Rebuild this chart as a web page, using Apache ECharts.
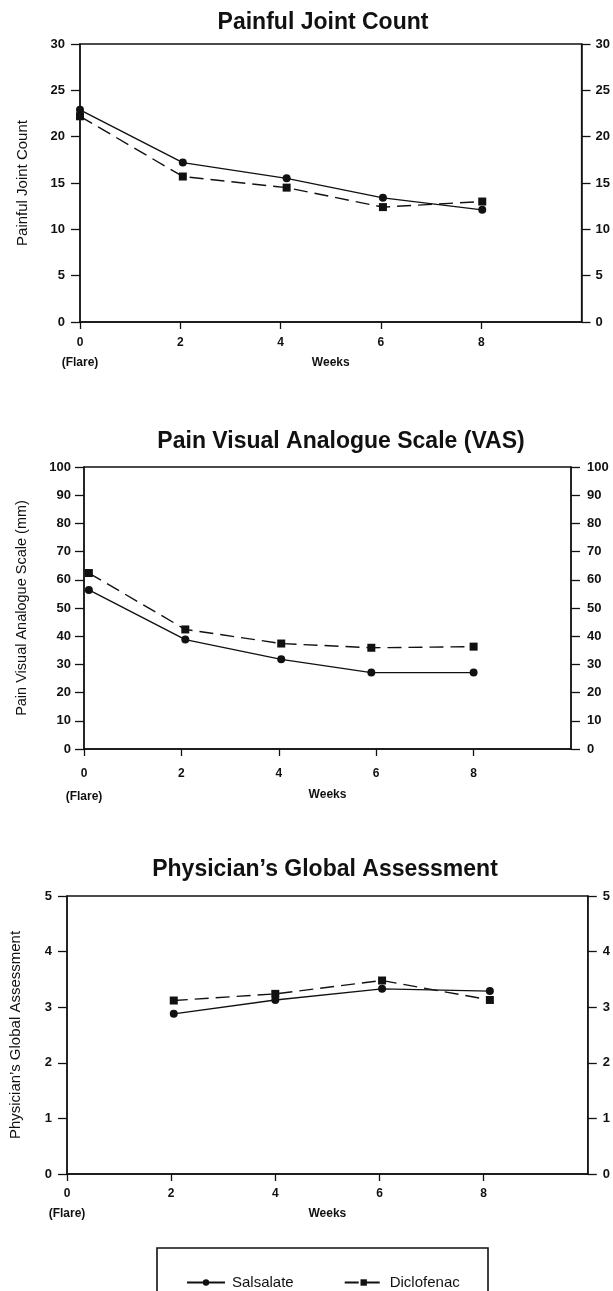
<!DOCTYPE html>
<html>
<head>
<meta charset="utf-8">
<script src="https://cdn.jsdelivr.net/npm/echarts@6/dist/echarts.min.js"></script>
<style>
  html, body { margin: 0; padding: 0; background: #fff; }
  #chart { width: 613px; height: 1291px; }
</style>
</head>
<body>
<div id="chart"></div>
<script>
// ---- Data ----
const xTickValues = [0, 2, 4, 6, 8];
const seriesNames = ['Salsalate', 'Diclofenac'];

const pjcWeeks = [0, 2.05, 4.12, 6.04, 8.02];
const pjcSalsalate = [22.9, 17.2, 15.5, 13.4, 12.1];
const pjcDiclofenac = [22.2, 15.7, 14.5, 12.4, 13.0];

const vasWeeks = [0.1, 2.08, 4.05, 5.9, 8.0];
const vasSalsalate = [56.4, 38.8, 31.8, 27.1, 27.1];
const vasDiclofenac = [62.4, 42.4, 37.4, 35.9, 36.3];

const pgaWeeks = [2.05, 4.0, 6.05, 8.12];
const pgaSalsalate = [2.88, 3.13, 3.33, 3.29];
const pgaDiclofenac = [3.12, 3.24, 3.48, 3.13];

const titles = ['Painful Joint Count', 'Pain Visual Analogue Scale (VAS)', "Physician\u2019s Global Assessment"];
const yNames = ['Painful Joint Count', 'Pain Visual Analogue Scale (mm)', "Physician\u2019s Global Assessment"];
const yMaxes = [30, 100, 5];
const yIntervals = [5, 10, 1];
const xName = 'Weeks';
const flareLabel = '(Flare)';

// ---- Layout (positions & styles only) ----
const FONT = "'Liberation Sans', Arial, Helvetica, sans-serif";
const INK = '#111';
const layouts = [
  { grid: { left: 80, right: 31, top: 44, height: 278 }, titleX: 323, titleY: 23, nameGap: 50, nameSize: 15, lMargin: 15, rMargin: 14, xMargin: 11, xLine: 20, xNameGap: 35 },
  { grid: { left: 84, right: 42, top: 467, height: 282 }, titleX: 341, titleY: 442, nameGap: 55, nameSize: 14.5, lMargin: 13, rMargin: 16, xMargin: 13, xLine: 23, xNameGap: 40 },
  { grid: { left: 64, right: 25, top: 896, height: 278 }, titleX: 325, titleY: 870, nameGap: 44, nameSize: 15, lMargin: 15, rMargin: 15, xMargin: 10, xLine: 20, xNameGap: 34 }
];

const datasets = [
  [pjcWeeks, pjcSalsalate, pjcDiclofenac],
  [vasWeeks, vasSalsalate, vasDiclofenac],
  [pgaWeeks, pgaSalsalate, pgaDiclofenac]
];

const grids = [], xAxes = [], yAxes = [], series = [], graphics = [];

layouts.forEach((L, i) => {
  grids.push(Object.assign({ show: true, borderColor: INK, borderWidth: 1.3, backgroundColor: 'transparent', containLabel: false }, L.grid));

  xAxes.push({
    type: 'value', gridIndex: i, min: 0, max: 10, interval: 2,
    name: xName, nameLocation: 'middle', nameGap: L.xNameGap, nameMoveOverlap: false,
    nameTextStyle: { fontFamily: FONT, fontSize: 12, fontWeight: 'bold', color: INK },
    axisLine: { show: true, onZero: false, lineStyle: { color: INK, width: 1.5 } },
    axisTick: { show: true, length: 7, customValues: xTickValues, lineStyle: { color: INK, width: 1.3 } },
    axisLabel: {
      customValues: xTickValues, margin: L.xMargin, lineHeight: L.xLine,
      fontFamily: FONT, fontSize: 12, fontWeight: 'bold', color: INK,
      formatter: v => (v === 0 ? '0\n' + flareLabel : String(v))
    },
    splitLine: { show: false }
  });

  const yCommon = {
    type: 'value', gridIndex: i, min: 0, max: yMaxes[i], interval: yIntervals[i],
    axisLine: { show: true, lineStyle: { color: INK, width: 1.5 } },
    axisTick: { show: true, length: 9, lineStyle: { color: INK, width: 1.3 } },
    splitLine: { show: false }
  };
  yAxes.push(Object.assign({}, yCommon, {
    position: 'left',
    name: yNames[i], nameLocation: 'middle', nameGap: L.nameGap, nameRotate: 90, nameMoveOverlap: false,
    nameTextStyle: { fontFamily: FONT, fontSize: L.nameSize, color: INK },
    axisLabel: { margin: L.lMargin, fontFamily: FONT, fontSize: 13, fontWeight: 'bold', color: INK }
  }));
  yAxes.push(Object.assign({}, yCommon, {
    position: 'right',
    axisLabel: { margin: L.rMargin, fontFamily: FONT, fontSize: 13, fontWeight: 'bold', color: INK }
  }));

  const [wk, sal, dic] = datasets[i];
  series.push({
    name: seriesNames[0], type: 'line', xAxisIndex: i, yAxisIndex: 2 * i,
    data: wk.map((w, k) => [w, sal[k]]),
    symbol: 'circle', symbolSize: 8, showAllSymbol: true,
    lineStyle: { color: INK, width: 1.4, type: 'solid' },
    itemStyle: { color: INK }, z: 3
  });
  series.push({
    name: seriesNames[1], type: 'line', xAxisIndex: i, yAxisIndex: 2 * i,
    data: wk.map((w, k) => [w, dic[k]]),
    symbol: 'rect', symbolSize: 8, showAllSymbol: true,
    lineStyle: { color: INK, width: 1.4, type: [14, 7] },
    itemStyle: { color: INK }, z: 3
  });

  graphics.push({
    type: 'text', x: L.titleX, y: L.titleY,
    style: { text: titles[i], fontFamily: FONT, fontSize: 23, fontWeight: 'bold', fill: INK, align: 'center', verticalAlign: 'middle' }
  });
});

// legend frame
graphics.push({
  type: 'rect', shape: { x: 157, y: 1248, width: 331, height: 100 },
  style: { fill: 'none', stroke: INK, lineWidth: 1.6 }
});

const chart = echarts.init(document.getElementById('chart'), null, { renderer: 'canvas' });
chart.setOption({
  animation: false,
  backgroundColor: '#fff',
  grid: grids,
  xAxis: xAxes,
  yAxis: yAxes,
  series: series,
  graphic: graphics,
  legend: {
    data: seriesNames, left: 181, top: 1270, itemWidth: 38, itemHeight: 8, itemGap: 50,
    textStyle: { fontFamily: FONT, fontSize: 15, color: INK, padding: [0, 0, 0, 2] },
    inactiveColor: '#ccc'
  }
});
</script>
</body>
</html>
